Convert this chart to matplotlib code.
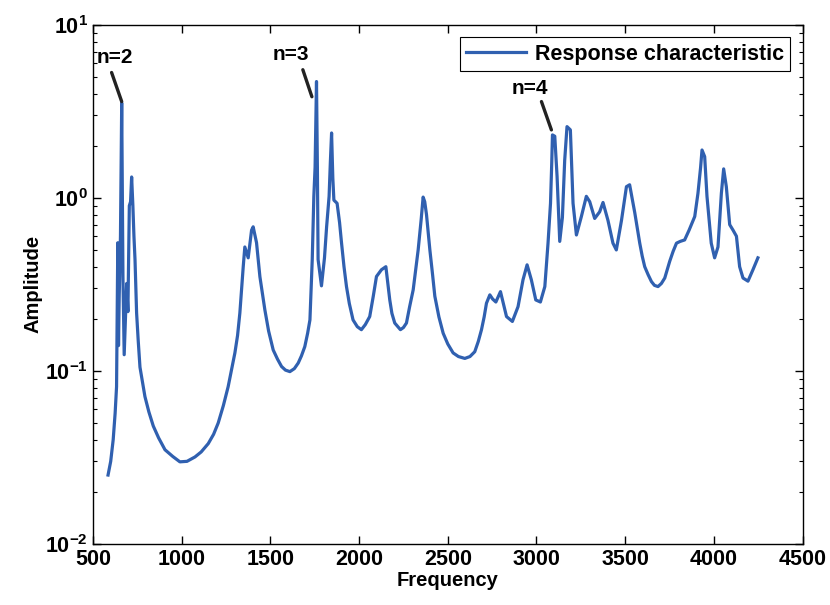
import matplotlib
matplotlib.use("Agg")
import matplotlib.pyplot as plt
from matplotlib.ticker import LogLocator, FixedLocator

plt.rcParams['font.family'] = ['Liberation Sans', 'DejaVu Sans']
plt.rcParams['font.weight'] = 'bold'
plt.rcParams['axes.labelweight'] = 'bold'
plt.rcParams['mathtext.fontset'] = 'custom'
plt.rcParams['mathtext.rm'] = 'Liberation Sans:bold'
plt.rcParams['mathtext.default'] = 'rm'

freq = [585, 600, 614, 625, 633, 640, 644, 648, 655, 662, 669, 676, 683,
        690, 697, 705, 712, 718, 725, 731, 737, 746, 755, 765, 780, 793,
        815, 840, 870, 906, 950, 990, 1030, 1075, 1110, 1150, 1180, 1206,
        1235, 1262, 1280, 1300, 1315, 1328, 1338, 1347, 1356, 1375, 1394,
        1403, 1422, 1441, 1455, 1469, 1490, 1516, 1540, 1563, 1585, 1610,
        1635, 1657, 1675, 1694, 1710, 1723, 1736, 1745, 1752, 1760, 1765,
        1769, 1788, 1805, 1817, 1831, 1838, 1845, 1852, 1858, 1876, 1890,
        1901, 1915, 1929, 1945, 1966, 1990, 2013, 2035, 2060, 2080, 2098,
        2126, 2151, 2173, 2185, 2201, 2233, 2250, 2267, 2285, 2305, 2320,
        2333, 2350, 2361, 2370, 2380, 2399, 2413, 2427, 2450, 2474, 2500,
        2530, 2560, 2596, 2625, 2652, 2672, 2690, 2705, 2718, 2737, 2753,
        2771, 2797, 2815, 2831, 2864, 2896, 2924, 2947, 2971, 2996, 3022,
        3047, 3065, 3079, 3086, 3090, 3103, 3110, 3116, 3131, 3146, 3159,
        3172, 3191, 3206, 3225, 3253, 3281, 3300, 3328, 3356, 3375, 3403,
        3431, 3450, 3479, 3507, 3525, 3554, 3568, 3582, 3596, 3610, 3629,
        3648, 3665, 3685, 3704, 3723, 3751, 3770, 3789, 3810, 3835, 3860,
        3892, 3910, 3925, 3933, 3948, 3961, 3985, 4004, 4023, 4042, 4055,
        4070, 4089, 4108, 4127, 4145, 4164, 4192, 4220, 4248]

amplitude = [0.025, 0.030, 0.040, 0.057, 0.081, 0.55, 0.14, 0.27, 0.6, 3.54,
             0.35, 0.124, 0.2, 0.32, 0.22, 0.9, 0.95, 1.32, 0.9, 0.6, 0.44,
             0.216, 0.15, 0.105, 0.085, 0.071, 0.058, 0.048, 0.041, 0.035,
             0.032, 0.0298, 0.0300, 0.0318, 0.034, 0.038, 0.043, 0.050,
             0.063, 0.081, 0.100, 0.127, 0.16, 0.216, 0.30, 0.40, 0.52, 0.45,
             0.65, 0.68, 0.55, 0.35, 0.28, 0.225, 0.17, 0.132, 0.117, 0.106,
             0.101, 0.099, 0.103, 0.111, 0.122, 0.138, 0.165, 0.197, 0.44,
             1.02, 1.5, 4.7, 1.5, 0.44, 0.31, 0.45, 0.68, 1.02, 1.6, 2.37,
             1.3, 0.97, 0.93, 0.72, 0.55, 0.40, 0.307, 0.245, 0.197, 0.180,
             0.173, 0.185, 0.206, 0.27, 0.351, 0.384, 0.40, 0.257, 0.215,
             0.189, 0.173, 0.178, 0.189, 0.235, 0.294, 0.39, 0.50, 0.75,
             1.01, 0.95, 0.8, 0.50, 0.37, 0.27, 0.205, 0.165, 0.143, 0.127,
             0.121, 0.118, 0.121, 0.129, 0.148, 0.173, 0.205, 0.246, 0.275,
             0.26, 0.25, 0.287, 0.24, 0.206, 0.193, 0.235, 0.336, 0.41,
             0.336, 0.257, 0.25, 0.307, 0.547, 0.93, 1.6, 2.31, 2.27, 1.7,
             1.33, 0.56, 0.77, 1.65, 2.58, 2.47, 0.93, 0.61, 0.78, 1.02,
             0.95, 0.76, 0.83, 0.94, 0.74, 0.547, 0.50, 0.74, 1.16, 1.19,
             0.82, 0.67, 0.547, 0.46, 0.40, 0.36, 0.328, 0.312, 0.307, 0.32,
             0.344, 0.43, 0.49, 0.547, 0.56, 0.571, 0.65, 0.78, 1.06, 1.5,
             1.89, 1.73, 1.02, 0.547, 0.45, 0.52, 1.06, 1.47, 1.16, 0.70,
             0.65, 0.60, 0.40, 0.344, 0.33, 0.384, 0.45]

x_ticks = [500, 1000, 1500, 2000, 2500, 3000, 3500, 4000, 4500]

mode_labels = ['n=2', 'n=3', 'n=4']
mode_peaks = [(662, 3.6), (1734, 3.84), (3084, 2.47)]

fig = plt.figure(figsize=(8.3, 6.05), dpi=100)
ax = fig.add_axes([0.112, 0.101, 0.855, 0.858])

ax.plot(freq, amplitude, color='#3060b0', linewidth=2.3,
        label='Response characteristic')
ax.set_yscale('log')
ax.set_xlim(500, 4500)
ax.set_ylim(1e-2, 1e1)
ax.xaxis.set_major_locator(FixedLocator(x_ticks))
ax.yaxis.set_major_locator(LogLocator(base=10, numticks=10))
ax.yaxis.set_minor_locator(LogLocator(base=10, subs=range(2, 10), numticks=20))

ax.tick_params(which='both', direction='in', top=True, right=True,
               labelsize=15.5, colors='black')
ax.tick_params(which='major', length=6, width=1)
ax.tick_params(which='minor', length=3, width=0.8)
for s in ax.spines.values():
    s.set_linewidth(1.0)

ax.set_xlabel('Frequency', fontsize=14.5, labelpad=1)
ax.set_ylabel('Amplitude', fontsize=14.5, labelpad=2)

arrow = dict(arrowstyle='-', color='#222222', lw=2.4, shrinkA=0, shrinkB=0)
line_starts = [(605, 5.3), (1683, 5.5), (3028, 3.6)]
text_pos = [(624, 6.5), (1616, 6.7), (2962, 4.27)]
for lab, peak, start, tp in zip(mode_labels, mode_peaks, line_starts, text_pos):
    ax.annotate('', xy=peak, xytext=start, arrowprops=arrow)
    ax.text(tp[0], tp[1], lab, fontsize=15, ha='center', va='center')

leg = ax.legend(loc='upper right', fontsize=15.5, fancybox=False,
                framealpha=1, edgecolor='black', handlelength=2.8,
                borderpad=0.3, handletextpad=0.4, borderaxespad=0.3,
                bbox_to_anchor=(0.992, 0.988))
leg.get_frame().set_linewidth(0.8)

fig.savefig('out.png', dpi=100)
